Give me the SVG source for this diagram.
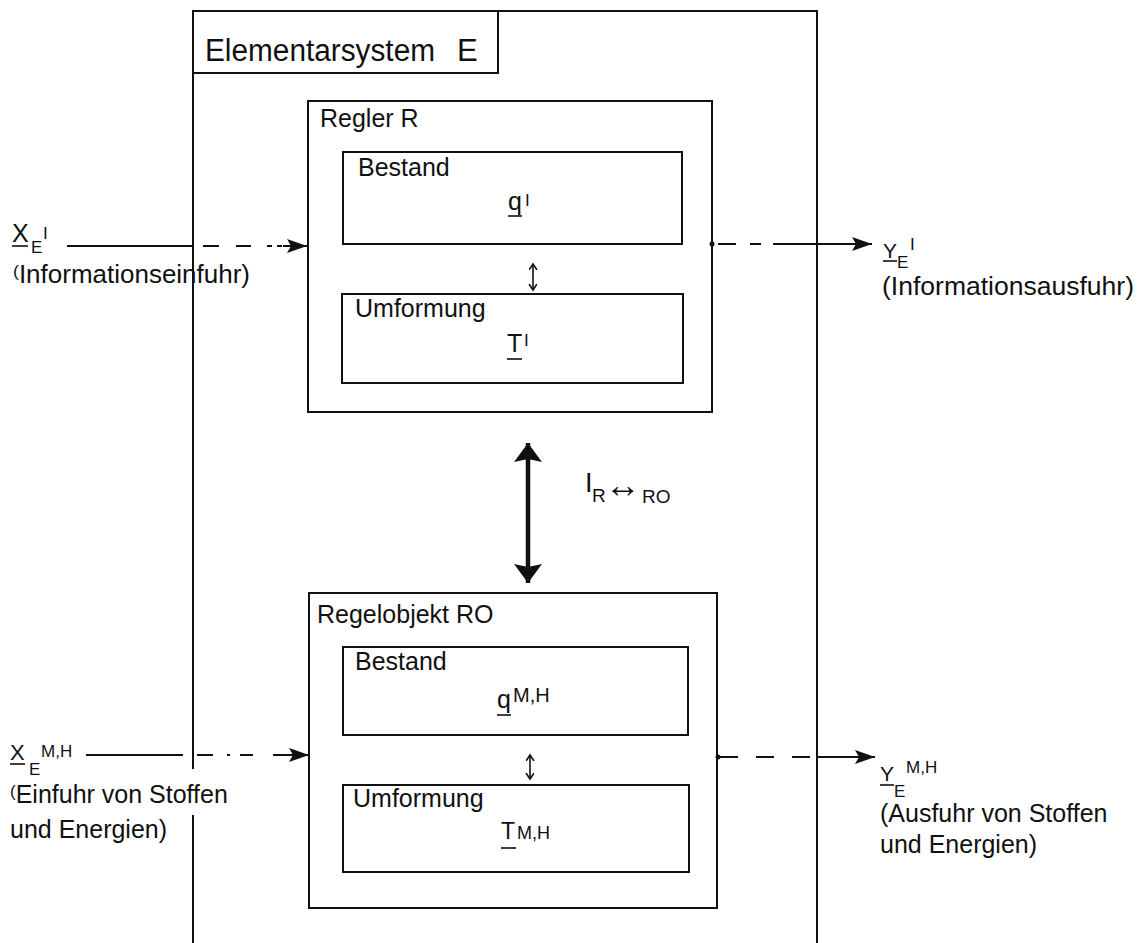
<svg xmlns="http://www.w3.org/2000/svg" width="1143" height="943" viewBox="0 0 1143 943">
<style>
  text { font-family: "Liberation Sans", Arial, sans-serif; fill: #111; }
  .box { fill: none; stroke: #111; stroke-width: 2; }
  .ln { fill: none; stroke: #111; stroke-width: 2; }
  .t25 { font-size: 25px; }
  .sub { font-size: 17px; }
  .ul { stroke: #111; stroke-width: 1.6; }
</style>
<defs>
  <marker id="head" markerUnits="userSpaceOnUse" markerWidth="20" markerHeight="14" refX="20" refY="7" orient="auto">
    <path d="M0,0 L20,7 L0,14 L4,7 z" fill="#111"/>
  </marker>
  <marker id="bighead" markerUnits="userSpaceOnUse" markerWidth="30" markerHeight="30" refX="19" refY="14" orient="auto-start-reverse">
    <path d="M0,0 L19,14 L0,28 L3,14 z" fill="#111"/>
  </marker>
  <marker id="small" markerUnits="userSpaceOnUse" markerWidth="10" markerHeight="10" refX="6" refY="4" orient="auto-start-reverse">
    <path d="M0,0 L6,4 L0,8" fill="none" stroke="#111" stroke-width="1.6"/>
  </marker>
</defs>
<rect width="1143" height="943" fill="#fff"/>

<g id="elementarsystem-E">
  <path class="box" d="M193 943 V815 M193 769 V11 H817 V943"/>
</g>
<g id="title-E">
  <path class="box" d="M193 73 H498 V11"/>
  <text x="205" y="61" font-size="31" textLength="230" lengthAdjust="spacingAndGlyphs">Elementarsystem</text>
  <text x="457" y="61" font-size="31">E</text>
</g>

<g id="regler-R">
  <rect class="box" x="308" y="101" width="404" height="311"/>
  <text class="t25" x="320" y="127">Regler R</text>
</g>
<g id="bestand-R">
  <rect class="box" x="343" y="152" width="339" height="92"/>
  <text class="t25" x="358" y="176">Bestand</text>
  <text class="t25" x="508" y="210">q</text>
  <line class="ul" x1="508" y1="216" x2="522" y2="216"/>
  <text class="sub" x="525" y="206">I</text>
</g>
<g id="umformung-R">
  <rect class="box" x="342" y="294" width="341" height="89"/>
  <text class="t25" x="355" y="317">Umformung</text>
  <text class="t25" x="507" y="352">T</text>
  <line class="ul" x1="507" y1="359" x2="522" y2="359"/>
  <text class="sub" x="524" y="346">I</text>
</g>

<g id="regelobjekt-RO">
  <rect class="box" x="309" y="593" width="408" height="315"/>
  <text class="t25" x="317" y="623">Regelobjekt RO</text>
</g>
<g id="bestand-RO">
  <rect class="box" x="343" y="647" width="345" height="88"/>
  <text class="t25" x="355" y="670">Bestand</text>
  <text class="t25" x="497" y="708">q</text>
  <line class="ul" x1="497" y1="715" x2="511" y2="715"/>
  <text x="513" y="702" font-size="20">M,H</text>
</g>
<g id="umformung-RO">
  <rect class="box" x="343" y="785" width="346" height="87"/>
  <text class="t25" x="353" y="807">Umformung</text>
  <text x="501" y="839" font-size="23">T</text>
  <line class="ul" x1="501" y1="848" x2="516" y2="848"/>
  <text x="517" y="839" font-size="18">M,H</text>
</g>

<g id="label-XEI">
  <text x="12" y="242" class="t25">X</text>
  <line class="ul" x1="12" y1="246" x2="28" y2="246"/>
  <text x="31" y="253" class="sub">E</text>
  <text x="43" y="239" class="sub">I</text>
  <text x="13" y="283" class="t25" textLength="237" lengthAdjust="spacingAndGlyphs"><tspan font-size="17" dy="-6">(</tspan><tspan dy="6">Informationseinfuhr)</tspan></text>
</g>
<g id="label-YEI">
  <text x="883" y="258" font-size="21">Y</text>
  <line class="ul" x1="883" y1="261" x2="897" y2="261"/>
  <text x="897" y="268" class="sub">E</text>
  <text x="910" y="250" class="sub">I</text>
  <text x="882" y="295" class="t25" textLength="252" lengthAdjust="spacingAndGlyphs">(Informationsausfuhr)</text>
</g>
<g id="label-XEMH">
  <text x="10" y="760" font-size="22">X</text>
  <line class="ul" x1="10" y1="764" x2="25" y2="764"/>
  <text x="29" y="775" class="sub">E</text>
  <text x="41" y="757" class="sub">M,H</text>
  <text x="10" y="803" class="t25"><tspan font-size="17" dy="-6">(</tspan><tspan dy="6">Einfuhr von Stoffen</tspan></text>
  <text x="10" y="838" class="t25">und Energien)</text>
</g>
<g id="label-YEMH">
  <text x="880" y="781" font-size="21">Y</text>
  <line class="ul" x1="880" y1="785" x2="894" y2="785"/>
  <text x="894" y="797" class="sub">E</text>
  <text x="906" y="773" class="sub">M,H</text>
  <text x="880" y="822" class="t25">(Ausfuhr von Stoffen</text>
  <text x="880" y="853" class="t25">und Energien)</text>
</g>
<g id="label-IRRO">
  <text x="585" y="492" font-size="27">I<tspan x="592" y="502" font-size="19">R</tspan><tspan x="605" y="497" font-size="36">↔</tspan><tspan x="642" y="503" font-size="19">RO</tspan></text>
</g>

<g id="connectors">
  <line class="ln" x1="67" y1="246" x2="193" y2="246"/>
  <path class="ln" d="M203 246 H282" stroke-dasharray="16 17 15 16 5 5"/>
  <path class="ln" d="M283 246 H307" marker-end="url(#head)"/>
  <circle cx="712" cy="244" r="2.5" fill="#111"/>
  <path class="ln" d="M718 244 H775" stroke-dasharray="18 14 11 12"/>
  <path class="ln" d="M775 244 H872" marker-end="url(#head)"/>
  <line class="ln" x1="86" y1="755" x2="183" y2="755"/>
  <path class="ln" d="M197 755 H255" stroke-dasharray="16 14 3 10 13 20"/>
  <path class="ln" d="M273 755 H309" marker-end="url(#head)"/>
  <circle cx="718" cy="757" r="2.5" fill="#111"/>
  <path class="ln" d="M720 757 H810" stroke-dasharray="18 18"/>
  <path class="ln" d="M817 757 H875" marker-end="url(#head)"/>
  <path d="M528 443 V583" stroke="#111" stroke-width="4.5" fill="none" marker-start="url(#bighead)" marker-end="url(#bighead)"/>
  <path d="M533 264 V290" stroke="#111" stroke-width="1.6" fill="none" marker-start="url(#small)" marker-end="url(#small)"/>
  <path d="M530 755 V779" stroke="#111" stroke-width="1.6" fill="none" marker-start="url(#small)" marker-end="url(#small)"/>
</g>
</svg>
